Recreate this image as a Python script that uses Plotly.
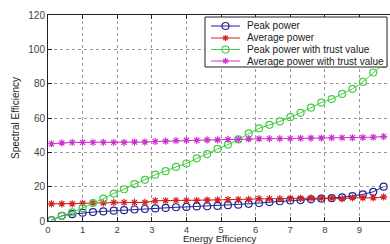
import plotly.graph_objects as go

x_vals = [0.1, 0.4, 0.7, 1.0, 1.3, 1.6, 1.9, 2.2, 2.5, 2.8, 3.1, 3.4, 3.7, 4.0, 4.3, 4.6, 4.9,
          5.2, 5.5, 5.8, 6.1, 6.4, 6.7, 7.0, 7.3, 7.6, 7.9, 8.2, 8.5, 8.8, 9.1, 9.4, 9.7]

peak_power = [0.5, 3, 4, 4.8, 5.2, 5.6, 6, 6.3, 6.7, 7, 7.3, 7.6, 8, 8.2, 8.5, 8.6, 8.8,
              9.2, 9.5, 10, 10.5, 11, 11.5, 12, 12.2, 12.6, 13, 13.3, 13.8, 14.5, 15.5, 17, 20]

average_power = [10, 10, 10, 10.3, 10.5, 10.5, 10.8, 10.8, 10.8, 10.8, 11.8, 11.8, 12, 12, 12, 12.2, 12.3,
                 12.5, 12.5, 12.6, 13, 13, 13, 13.2, 13.2, 13.3, 13.3, 13.3, 13, 13.5, 13.5, 13.5, 14]

peak_trust = [0.5, 3, 5, 7.5, 10.5, 13, 16, 18.5, 21.5, 24, 27, 29, 31.5, 33.5, 36.5, 39, 42,
              44.5, 47.5, 51, 54, 56, 58, 60.5, 63, 66, 69, 71, 74, 77, 81, 86.5, 91.5]

average_trust = [45, 45.5, 45.8, 45.8, 45.8, 45.8, 45.8, 45.8, 46, 46, 46.3, 46.5, 46.8, 47, 47, 47.2, 47.3,
                 47.5, 47.5, 47.8, 47.9, 48, 48, 48, 48.2, 48.3, 48.3, 48.5, 48.5, 48.5, 48.6, 48.8, 49.2]

x_ticks = [0, 1, 2, 3, 4, 5, 6, 7, 8, 9]
y_ticks = [0, 20, 40, 60, 80, 100, 120]

series = [
    ("Peak power", peak_power, "#23238e", "circle-open", 7),
    ("Average power", average_power, "#d42020", "asterisk-open", 6),
    ("Peak power with trust value", peak_trust, "#44cc44", "circle-open", 7),
    ("Average power with trust value", average_trust, "#cc33cc", "asterisk-open", 6),
]

# plot area in pixels
L, R, T, B = 48, 390, 15, 221
W, H = R - L, B - T

fig = go.Figure()
for name, ys, col, sym, sz in series:
    fig.add_trace(go.Scatter(
        x=x_vals, y=ys, name=name, mode="lines+markers", showlegend=False,
        line=dict(color=col, width=1),
        marker=dict(symbol=sym, size=sz, color=col, line=dict(color=col, width=1.2)),
    ))

# custom compact legend (MATLAB style) in pixel coordinates on overlay axes
box = dict(x0=205, x1=387, y0=17, y1=67)
row_y = [26, 38, 49.5, 61]
mx = 225.5
shapes = [dict(type="rect", xref="x2", yref="y2", x0=box["x0"], x1=box["x1"], y0=box["y0"], y1=box["y1"],
               line=dict(color="#222", width=1), fillcolor="white", layer="above")]
annotations = []
for (name, ys, col, sym, sz), ry in zip(series, row_y):
    shapes.append(dict(type="line", xref="x2", yref="y2", x0=211, x1=240, y0=ry, y1=ry,
                       line=dict(color=col, width=1), layer="above"))
    if sym.startswith("circle"):
        r = 3.5
        shapes.append(dict(type="circle", xref="x2", yref="y2", x0=mx - r, x1=mx + r, y0=ry - r, y1=ry + r,
                           line=dict(color=col, width=1.2), fillcolor="rgba(0,0,0,0)", layer="above"))
    else:
        r, d = 3, 2.2
        for dx, dy in [(r, 0), (0, r), (d, d), (d, -d)]:
            shapes.append(dict(type="line", xref="x2", yref="y2", x0=mx - dx, x1=mx + dx,
                               y0=ry - dy, y1=ry + dy, line=dict(color=col, width=1.2), layer="above"))
    annotations.append(dict(xref="paper", yref="paper", x=(245 - L) / W, y=(B - ry) / H,
                            text=name, showarrow=False, xanchor="left", yanchor="middle",
                            font=dict(size=10, color="#222")))

annotations.append(dict(xref="paper", yref="paper", x=(219 - L) / W, y=(B - 238) / H,
                        text="Energy Efficiency", showarrow=False, xanchor="center", yanchor="middle",
                        font=dict(size=9.5, color="#222")))
annotations.append(dict(xref="paper", yref="paper", x=(15 - L) / W, y=(B - 118) / H,
                        text="Spectral Efficiency", showarrow=False, xanchor="center", yanchor="middle",
                        textangle=-90, font=dict(size=10, color="#222")))

fig.update_layout(
    width=390, height=244,
    margin=dict(l=L, r=390 - R, t=T, b=244 - B, autoexpand=False),
    paper_bgcolor="white", plot_bgcolor="white",
    font=dict(family="Liberation Sans, Arial, sans-serif", size=10, color="#444"),
    showlegend=False,
    shapes=shapes,
    annotations=annotations,
    xaxis=dict(
        range=[0, (R - L) / 34.6], tickvals=x_ticks, ticks="inside", ticklen=4, tickcolor="#222",
        showline=True, linecolor="#222", linewidth=1, mirror="ticks",
        showgrid=True, gridcolor="#999", griddash="dot", gridwidth=1,
        zeroline=False, automargin=False, tickfont=dict(size=9.5),
    ),
    yaxis=dict(
        range=[0, 120], tickvals=y_ticks, ticks="inside", ticklen=4, tickcolor="#222",
        showline=True, linecolor="#222", linewidth=1, mirror=False,
        showgrid=True, gridcolor="#999", griddash="dot", gridwidth=1,
        zeroline=False, automargin=False,
    ),
    xaxis2=dict(overlaying="x", range=[L, R], visible=False, fixedrange=True),
    yaxis2=dict(overlaying="y", range=[B, T], visible=False, fixedrange=True),
)

fig.write_html("out.html", config={"displayModeBar": False},
               post_script="document.body.style.margin='0';document.body.style.overflow='hidden';")
